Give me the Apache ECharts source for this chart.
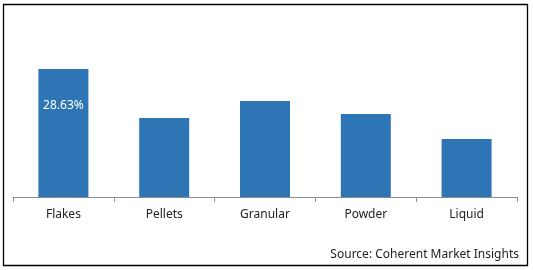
<!DOCTYPE html>
<html>
<head>
<meta charset="utf-8">
<script src="https://cdn.jsdelivr.net/npm/echarts@6/dist/echarts.min.js"></script>
<style>
html,body{margin:0;padding:0;background:#fff;}
#chart{width:533px;height:270px;}
</style>
</head>
<body>
<div id="chart"></div>
<script>
const categories = ['Flakes', 'Pellets', 'Granular', 'Powder', 'Liquid'];
const shareValues = [28.63, 17.67, 21.47, 18.56, 12.97];
const labeledIndex = 0;
const sourceText = 'Source: Coherent Market Insights';

const chart = echarts.init(document.getElementById('chart'));
const FONT = 'Noto Sans';
chart.setOption({
  animation: false,
  backgroundColor: '#ffffff',
  grid: { left: 13, right: 16, top: 18, bottom: 73, containLabel: false },
  xAxis: {
    type: 'category',
    data: categories,
    axisLine: { lineStyle: { color: '#8c8c8c', width: 1 } },
    axisTick: { show: true, length: 5, lineStyle: { color: '#8c8c8c' } },
    axisLabel: { color: '#222', fontFamily: FONT, fontSize: 12, margin: 12 }
  },
  yAxis: {
    type: 'value',
    min: 0, max: 40,
    show: false,
    splitLine: { show: false }
  },
  series: [{
    type: 'bar',
    data: shareValues.map((v, i) => ({
      value: v,
      label: {
        show: i === labeledIndex,
        position: 'insideTop',
        distance: 31,
        color: '#ffffff',
        fontFamily: FONT,
        fontSize: 12,
        formatter: p => p.value.toFixed(2) + '%'
      }
    })),
    barWidth: 50,
    itemStyle: { color: '#2E75B6' }
  }],
  graphic: [
    {
      type: 'rect',
      shape: { x: 3.5, y: 4.5, width: 524, height: 261 },
      style: { fill: 'none', stroke: '#000', lineWidth: 1.3 },
      silent: true
    },
    {
      type: 'text',
      right: 14,
      top: 249,
      style: { text: sourceText, fill: '#222', font: '12px "' + FONT + '"' }
    }
  ]
});
</script>
</body>
</html>
